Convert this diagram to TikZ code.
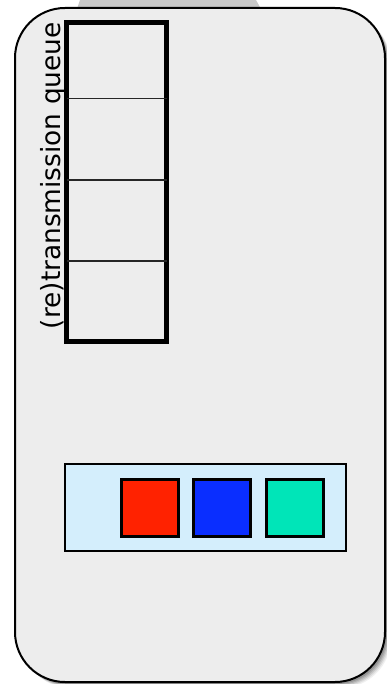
\documentclass[tikz,border=0pt]{standalone}
\usepackage{fontspec}
\setmainfont{DejaVu Sans}
\begin{document}
\begin{tikzpicture}[x=1pt,y=-1pt,
  panel/.style={draw=black,line width=2pt,fill=panelgray,rounded corners=50pt},
  queueframe/.style={draw=black,line width=5pt},
  divider/.style={draw=black!85,line width=1.5pt},
  tray/.style={draw=black,line width=2pt,fill=trayblue},
  packet/.style={draw=black,line width=2.2pt,minimum width=57pt,minimum height=57pt,inner sep=0pt}]
\definecolor{panelgray}{HTML}{EDEDED}
\definecolor{trayblue}{HTML}{D4EEFC}
\definecolor{pktred}{HTML}{FF2200}
\definecolor{pktblue}{HTML}{0A2EFF}
\definecolor{pktteal}{HTML}{00E5B8}
\definecolor{tabgray}{HTML}{C8C8C8}
\useasboundingbox (0,0) rectangle (387,684);
% tab behind panel
\fill[tabgray] (77,9) -- (80,0) -- (256,0) -- (261,9) -- cycle;
% shadow
\foreach \o/\a in {6/0.06,5/0.08,4/0.10,3/0.12,2/0.14}{
  \fill[black,opacity=\a,rounded corners=50pt] (15+\o,8+\o) rectangle (385+\o,682+\o);
}
% panel
\node[panel,minimum width=370pt,minimum height=674pt,inner sep=0pt] (panel) at (200,345) {};
% queue
\draw[queueframe] (66.5,22.5) rectangle (166.5,341);
\coordinate (d1l) at (66.5,98.5); \coordinate (d1r) at (166.5,98.5);
\coordinate (d2l) at (66.5,180); \coordinate (d2r) at (166.5,180);
\coordinate (d3l) at (66.5,261); \coordinate (d3r) at (166.5,261);
\draw[divider] (d1l) -- (d1r);
\draw[divider] (d2l) -- (d2r);
\draw[divider] (d3l) -- (d3r);
\node[rotate=90,anchor=base east,inner sep=0pt,font=\fontsize{26.4pt}{30pt}\selectfont] (qlabel) at (60,22) {(re)transmission queue};
% tray
\node[tray,minimum width=281pt,minimum height=87pt,inner sep=0pt] (tray) at (205.5,507.5) {};
\node[packet,fill=pktred] (p1) at (150,508) {};
\node[packet,fill=pktblue] (p2) at (222,508) {};
\node[packet,fill=pktteal] (p3) at (295,508) {};
\end{tikzpicture}
\end{document}
